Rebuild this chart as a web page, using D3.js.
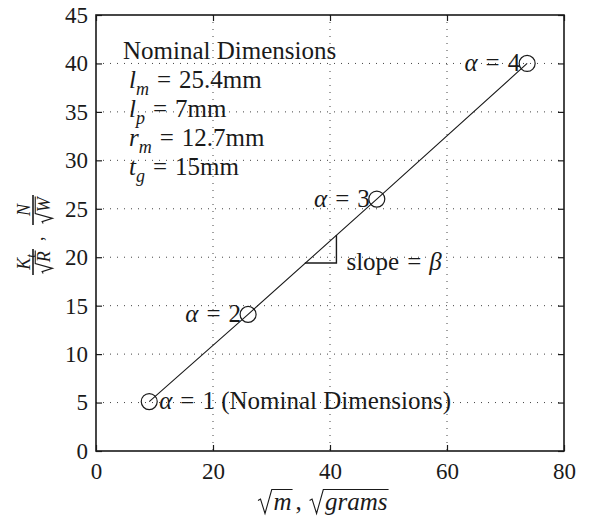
<!DOCTYPE html>
<html>
<head>
<meta charset="utf-8">
<script src="https://cdn.jsdelivr.net/npm/d3@7"></script>
<style>
  svg text, svg tspan { font-family: "Liberation Serif", serif !important; }
</style>
</head>
<body style="margin:0;background:#fff">
<div id="chart"></div>
<script>
// dados
const alphaVals = [1, 2, 3, 4];
const sqrtMass = [9.1, 26.0, 48.0, 73.7];
const ratio = [5.1, 14.1, 26.0, 40.0];
const xTicks = [0, 20, 40, 60, 80];
const yTicks = [0, 5, 10, 15, 20, 25, 30, 35, 40, 45];
const nominalVars = ["l", "l", "r", "t"];
const nominalSubs = ["m", "p", "m", "g"];
const nominalVals = ["25.4mm", "7mm", "12.7mm", "15mm"];
const slopeTriX = [35.7, 41.1, 41.1];
const slopeTriY = [19.4, 19.4, 22.3];

const FONT = "Liberation Serif";
const INK = "#1a1a1a";
const W = 597, H = 518;
const margin = { top: 15, right: 33, bottom: 67, left: 96 },
    width = W - margin.left - margin.right,
    height = H - margin.top - margin.bottom;

const svgRoot = d3.select("#chart").append("svg")
    .attr("width", W).attr("height", H)
    .attr("font-family", FONT);
const svg = svgRoot.append("g")
    .attr("transform", `translate(${margin.left},${margin.top})`);

const x = d3.scaleLinear().domain([0, 80]).range([0, width]);
const y = d3.scaleLinear().domain([0, 45]).range([height, 0]);

// grade pontilhada
svg.append("g").selectAll("line")
    .data(xTicks.slice(1, -1)).enter().append("line")
    .attr("x1", d => x(d)).attr("x2", d => x(d))
    .attr("y1", 0).attr("y2", height)
    .attr("stroke", "#444").attr("stroke-width", 1).attr("stroke-dasharray", "1,6");
svg.append("g").selectAll("line")
    .data(yTicks.slice(1, -1)).enter().append("line")
    .attr("y1", d => y(d)).attr("y2", d => y(d))
    .attr("x1", 0).attr("x2", width)
    .attr("stroke", "#444").attr("stroke-width", 1).attr("stroke-dasharray", "1,6");

// eixos com ticks para dentro (estilo matlab)
const tk = 6;
const axB = svg.append("g").attr("transform", `translate(0,${height})`)
    .call(d3.axisBottom(x).tickValues(xTicks).tickSizeInner(-tk).tickSizeOuter(0).tickPadding(12));
const axT = svg.append("g")
    .call(d3.axisTop(x).tickValues(xTicks).tickSizeInner(-tk).tickSizeOuter(0).tickFormat(""));
const axL = svg.append("g")
    .call(d3.axisLeft(y).tickValues(yTicks).tickSizeInner(-tk).tickSizeOuter(0).tickPadding(8));
const axR = svg.append("g").attr("transform", `translate(${width},0)`)
    .call(d3.axisRight(y).tickValues(yTicks).tickSizeInner(-tk).tickSizeOuter(0).tickFormat(""));
[axB, axT, axL, axR].forEach(a => {
    a.attr("font-family", FONT).attr("font-size", 23);
    a.select(".domain").remove();
    a.selectAll("line").attr("stroke", INK).attr("stroke-width", 1.2);
    a.selectAll("text").attr("font-family", FONT).attr("fill", INK);
});
axB.selectAll("text").attr("dy", "0.71em");

svg.append("rect").attr("width", width).attr("height", height)
    .attr("fill", "none").attr("stroke", INK).attr("stroke-width", 1.6);

// linha e marcadores
const pts = sqrtMass.map((v, i) => ({ x: v, y: ratio[i], a: alphaVals[i] }));
svg.append("path").datum(pts)
    .attr("d", d3.line().x(d => x(d.x)).y(d => y(d.y)))
    .attr("fill", "none").attr("stroke", INK).attr("stroke-width", 1.1);
svg.selectAll("circle").data(pts).enter().append("circle")
    .attr("cx", d => x(d.x)).attr("cy", d => y(d.y)).attr("r", 8)
    .attr("fill", "none").attr("stroke", INK).attr("stroke-width", 1.2);

// triangulo da inclinação
svg.append("path")
    .datum(slopeTriX.map((v, i) => [v, slopeTriY[i]]))
    .attr("d", d3.line().x(d => x(d[0])).y(d => y(d[1])))
    .attr("fill", "none").attr("stroke", INK).attr("stroke-width", 1.4);

function txt(parent, px, py, size) {
    return parent.append("text").attr("x", px).attr("y", py)
        .attr("font-size", size).attr("fill", INK).attr("font-family", FONT);
}

// texto com partes em itálico, subscritos e espaçamento do "="
function mathRuns(parent, px, py, runs, size, anchor) {
    const t = txt(parent, px, py, size).attr("text-anchor", anchor || "start");
    let shift = 0;
    runs.forEach(r => {
        const ts = t.append("tspan").text(r.t);
        if (r.it) ts.attr("font-style", "italic");
        if (r.dx) ts.attr("dx", r.dx);
        const want = r.sub ? size * 0.28 : 0;
        if (want !== shift) { ts.attr("dy", want - shift); shift = want; }
        if (r.sub) ts.attr("font-size", size * 0.72);
    });
    return t;
}
const eq = (rest) => [{ t: "=", dx: 8 }, { t: rest, dx: 8 }];

// radical desenhado à mão
function sqrtRun(parent, px, py, body, size, italic) {
    const s = size;
    const b = txt(parent, px + 0.62 * s, py, s).attr("font-style", italic ? "italic" : null).text(body);
    const bw = b.node().getComputedTextLength();
    const top = py - 0.82 * s;
    parent.append("path")
        .attr("d", `M${px},${py - 0.38 * s} L${px + 0.1 * s},${py - 0.44 * s} L${px + 0.28 * s},${py + 0.14 * s} L${px + 0.55 * s},${top} L${px + 0.66 * s + bw},${top}`)
        .attr("fill", "none").attr("stroke", INK).attr("stroke-width", 1.1);
    return px + 0.62 * s + bw;
}

// rótulos alfa
pts.forEach((d, i) => {
    if (i === 0) {
        mathRuns(svg, x(d.x) + 10, y(d.y) + 7,
            [{ t: "α", it: true }, ...eq("1 (Nominal Dimensions)")], 25, "start");
    } else {
        mathRuns(svg, x(d.x) - 7, y(d.y) + 8,
            [{ t: "α", it: true }, ...eq(String(d.a))], 25, "end");
    }
});

mathRuns(svg, x(slopeTriX[1]) + 10, y(slopeTriY[1]) + 7,
    [{ t: "slope" }, { t: "=", dx: 8 }, { t: "β", it: true, dx: 8 }], 25, "start");

// bloco de dimensões nominais
mathRuns(svg, 27, 44, [{ t: "Nominal Dimensions" }], 25, "start");
nominalVars.forEach((v, i) => {
    mathRuns(svg, 33, 73 + i * 29,
        [{ t: v, it: true }, { t: nominalSubs[i], it: true, sub: true }, ...eq(nominalVals[i])], 25, "start");
});

// rótulo do eixo x
const xl = svgRoot.append("g");
let cx = sqrtRun(xl, 258, 510, "m", 25, true);
txt(xl, cx + 4, 510, 25).text(",");
sqrtRun(xl, cx + 18, 510, "grams", 25, true);

// rótulo do eixo y (frações giradas)
const yl = svgRoot.append("g").attr("transform", "translate(33,235) rotate(-90)");
function frac(g, fx, numRuns, denBody, size) {
    const num = mathRuns(g, fx, -3, numRuns, size, "middle");
    const nw = num.node().getComputedTextLength();
    const tmp = txt(g, 0, 0, size).attr("font-style", "italic").text(denBody);
    const dw = tmp.node().getComputedTextLength() + 0.66 * size;
    tmp.remove();
    sqrtRun(g, fx - dw / 2, 17, denBody, size, true);
    const bw = Math.max(nw, dw) + 3;
    g.append("line").attr("x1", fx - bw / 2).attr("x2", fx + bw / 2).attr("y1", 0).attr("y2", 0)
        .attr("stroke", INK).attr("stroke-width", 1.6);
}
frac(yl, -27, [{ t: "K", it: true }, { t: "t", it: true, sub: true }], "R", 18);
txt(yl, -6, 10, 18).text(",");
frac(yl, 25, [{ t: "N", it: true }], "W", 18);
</script>
</body>
</html>
